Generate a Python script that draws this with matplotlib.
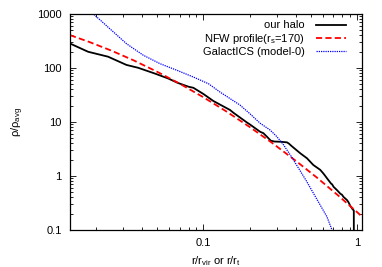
import matplotlib
matplotlib.use("Agg")
import matplotlib.pyplot as plt
from matplotlib.ticker import LogLocator, FixedLocator, FixedFormatter, NullFormatter

plt.rcParams['font.family'] = ['Liberation Sans', 'DejaVu Sans']
plt.rcParams['mathtext.fontset'] = 'custom'
plt.rcParams['mathtext.rm'] = 'Liberation Sans'
plt.rcParams['mathtext.it'] = 'Liberation Sans:italic'
plt.rcParams['font.size'] = 8

# our halo (black)
halo_r = [0.0134, 0.0177, 0.0239, 0.0315, 0.0375, 0.0482, 0.0589, 0.068, 0.08, 0.086,
          0.1, 0.116, 0.149, 0.157, 0.192, 0.201, 0.234, 0.246, 0.26, 0.275, 0.29,
          0.32, 0.35, 0.36, 0.375, 0.428, 0.473, 0.52, 0.577, 0.607, 0.65, 0.68, 0.69,
          0.705, 0.741, 0.78, 0.80, 0.818, 0.861, 0.88, 0.906, 0.94, 0.955, 0.956]
halo_rho = [287, 200, 162, 114, 101, 79, 64, 53, 45, 43,
            33, 24.5, 16.7, 14.8, 9.8, 9.0, 6.6, 6.2, 5.3, 4.5, 4.35,
            4.3, 4.2, 4.0, 3.6, 2.63, 2.13, 1.6, 1.3, 1.1, 0.85, 0.72, 0.7,
            0.63, 0.55, 0.47, 0.45, 0.41, 0.36, 0.33, 0.28, 0.24, 0.23, 0.05]

# NFW profile (red dashed)
nfw_r = [0.0135, 0.018, 0.025, 0.035, 0.05, 0.07, 0.1, 0.14, 0.2, 0.28, 0.4, 0.55, 0.75, 1.0, 1.08]
nfw_rho = [406, 304, 211, 139, 85, 51.3, 28.7, 15.9, 8.1, 4.11, 1.91, 0.93, 0.443, 0.216, 0.177]

# GalactICS model-0 (blue dotted)
gal_r = [0.018, 0.0192, 0.0246, 0.0316, 0.0406, 0.0522, 0.067, 0.086, 0.095, 0.108, 0.128,
         0.173, 0.201, 0.234, 0.272, 0.30, 0.33, 0.37, 0.417, 0.47, 0.53, 0.638, 0.689, 0.70]
gal_rho = [1200, 1000, 530, 280, 172, 120, 91, 68, 60, 51, 36,
           20.6, 14.2, 9.5, 7.1, 5.4, 3.9, 2.4, 1.39, 0.8, 0.44, 0.176, 0.1, 0.09]

labels = ['our halo', 'NFW profile(r$_{\\rm s}$=170)', 'GalactICS (model-0)']

fig = plt.figure(figsize=(3.82, 2.67), dpi=100)
ax = fig.add_axes([70/382, 1-230/267, 292/382, 216/267])

ax.plot(halo_r, halo_rho, color='black', lw=1.3, label=labels[0])
ax.plot(nfw_r, nfw_rho, color='#ff0000', lw=1.3, ls=(0, (3.4, 1.8)), label=labels[1])
ax.plot(gal_r, gal_rho, color='#0000ff', lw=0.9, ls=(0, (1, 0.8)), label=labels[2])

ax.set_xscale('log')
ax.set_yscale('log')
ax.set_xlim(0.0135, 1.08)
ax.set_ylim(0.1, 1000)

ax.xaxis.set_major_locator(FixedLocator([0.1, 1]))
ax.xaxis.set_major_formatter(FixedFormatter(['0.1', '1']))
ax.xaxis.set_minor_locator(LogLocator(base=10, subs=range(2, 10)))
ax.xaxis.set_minor_formatter(NullFormatter())
ax.yaxis.set_major_locator(FixedLocator([0.1, 1, 10, 100, 1000]))
ax.yaxis.set_major_formatter(FixedFormatter(['0.1', '1', '10', '100', '1000']))
ax.yaxis.set_minor_locator(LogLocator(base=10, subs=range(2, 10)))
ax.yaxis.set_minor_formatter(NullFormatter())

ax.tick_params(which='both', direction='in', top=True, right=True, width=0.6)
ax.tick_params(which='major', length=4.5, pad=6)
ax.tick_params(which='minor', length=2.5)
for s in ax.spines.values():
    s.set_linewidth(0.9)

ax.set_xlabel('r/r$_{\\rm vir}$ or r/r$_{\\rm t}$', labelpad=4)
ax.set_ylabel('ρ/ρ$_{\\rm avg}$', labelpad=8)

leg = ax.legend(loc='upper right', frameon=False, markerfirst=False,
                handlelength=2.7, handletextpad=1.0, labelspacing=0.12,
                borderpad=0, borderaxespad=0, bbox_to_anchor=(0.945, 0.97))

fig.savefig('out.png', dpi=100)
